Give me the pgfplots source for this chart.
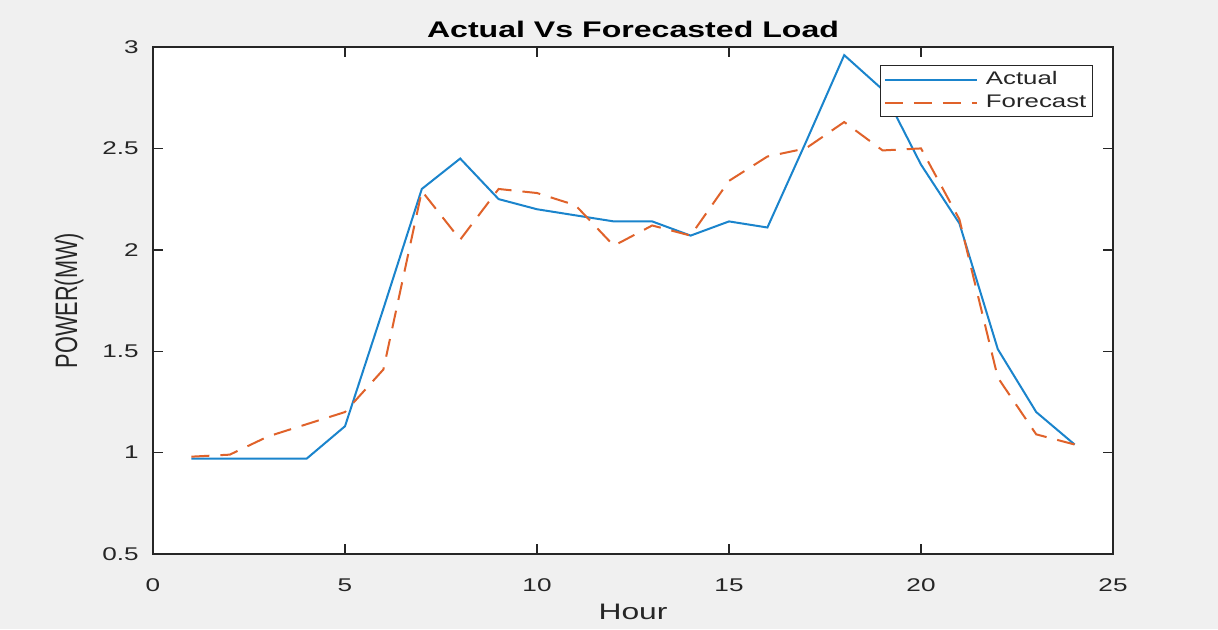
\documentclass[border=0pt]{standalone}
\usepackage{fontspec}
\setmainfont[FakeStretch=1.42]{Liberation Sans}
\newfontfamily\ylabfont[FakeStretch=0.7]{Liberation Sans}
\usepackage{pgfplots}
\pgfplotsset{compat=1.18}
\definecolor{bggray}{HTML}{F0F0F0}
\definecolor{axgray}{HTML}{262626}
\definecolor{mblue}{HTML}{1A84CC}
\definecolor{morange}{HTML}{E0622A}
\begin{document}
\begin{tikzpicture}
\path[use as bounding box, fill=bggray] (-76.5pt,-37.5pt) rectangle (532.5pt,277pt);
\begin{axis}[
  scale only axis,
  width=480pt, height=253.5pt,
  at={(0pt,0pt)}, anchor=south west,
  xmin=0, xmax=25, ymin=0.5, ymax=3,
  xtick={0,5,10,15,20,25},
  ytick={0.5,1,1.5,2,2.5,3},
  /pgf/number format/assume math mode=true,
  axis background/.style={fill=white},
  axis line style={axgray, line width=0.8pt},
  tick align=inside,
  major tick length=5pt,
  every tick/.style={axgray, line width=0.7pt},
  tick label style={font=\fontsize{9.2pt}{10.5pt}\selectfont, text=axgray},
  xticklabel style={yshift=-9pt},
  yticklabel style={xshift=-3.6pt},
  every axis title shift=0pt,
  title={\textbf{Actual Vs Forecasted Load}},
  title style={at={(axis description cs:0.5,1)}, anchor=center, yshift=9pt, font=\fontsize{11.3pt}{13pt}\selectfont, text=black},
  xlabel={Hour},
  every axis x label/.style={at={(axis description cs:0.5,0)}, anchor=center, yshift=-29pt, font=\fontsize{11.2pt}{13pt}\selectfont, text=axgray},
  ylabel={\ylabfont POWER(MW)},
  every axis y label/.style={at={(axis description cs:-0.0875,0.5)}, anchor=center, rotate=90, font=\fontsize{15.5pt}{17pt}\selectfont, text=axgray},
  legend image code/.code={\draw[#1] (0pt,0pt) -- (46pt,0pt); \path (48.5pt,0pt);},
  legend cell align=left,
  legend style={at={(rel axis cs:1,1)}, anchor=north east, xshift=-10pt, yshift=-9pt,
    draw=axgray, line width=0.6pt, fill=white, font=\fontsize{9.1pt}{10.5pt}\selectfont, text=axgray,
    inner xsep=1.5pt, inner ysep=1.5pt, row sep=0.5pt,
    nodes={inner sep=1.5pt}},
]
\addplot[mblue, line width=1pt] coordinates {
(1,0.97) (2,0.97) (3,0.97) (4,0.97) (5,1.13) (6,1.71) (7,2.30) (8,2.45)
(9,2.25) (10,2.20) (11,2.17) (12,2.14) (13,2.14) (14,2.07) (15,2.14) (16,2.11)
(17,2.53) (18,2.96) (19,2.79) (20,2.42) (21,2.13) (22,1.51) (23,1.20) (24,1.04)
};
\addlegendentry{Actual}
\addplot[morange, line width=1pt, dash pattern=on 9pt off 5.5pt] coordinates {
(1,0.98) (2,0.99) (3,1.08) (4,1.14) (5,1.20) (6,1.41) (7,2.29) (8,2.05)
(9,2.30) (10,2.28) (11,2.22) (12,2.02) (13,2.12) (14,2.07) (15,2.34) (16,2.46)
(17,2.50) (18,2.63) (19,2.49) (20,2.50) (21,2.15) (22,1.37) (23,1.09) (24,1.04)
};
\addlegendentry{Forecast}
\end{axis}
\end{tikzpicture}
\end{document}
